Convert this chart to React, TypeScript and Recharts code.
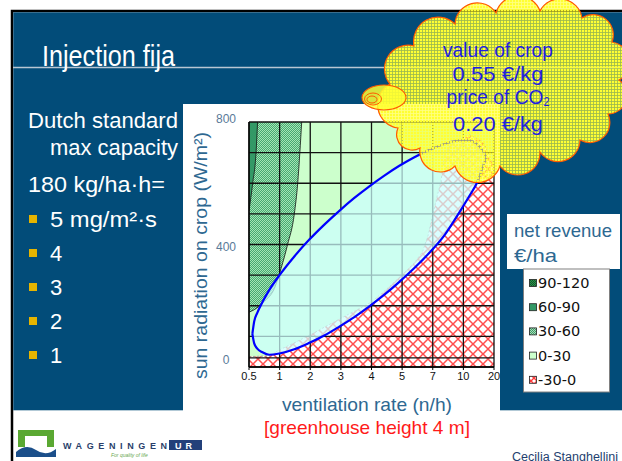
import React from 'react';
import { ComposedChart, Area, XAxis, YAxis, CartesianGrid } from 'recharts';

// ventilation rate axis: ticks are evenly spaced, index 0..8
const xTicks = [0, 1, 2, 3, 4, 5, 6, 7, 8];
const xLabels = ['0.5', '1', '2', '3', '4', '5', '7', '10', '20'];
// grid rows (W/m2); only some of them carry a label
const yTicks = [0, 30, 100, 200, 300, 400, 500, 600, 700, 800];
const yLabelled = [0, 400, 800];

// net revenue zones, x = index on the ventilation axis, y = sun radiation
const zone0to30 = [
  { x: 0, y: 800 },
  { x: 8, y: 800 },
];
const zoneLoss = [
  { x: 0, y: 34 }, { x: 0.66, y: 36 }, { x: 1.0, y: 56 }, { x: 1.5, y: 80 },
  { x: 2.0, y: 105 }, { x: 2.5, y: 132 }, { x: 3.0, y: 159 }, { x: 3.5, y: 185 },
  { x: 4.0, y: 212 }, { x: 4.5, y: 255 }, { x: 5.0, y: 301 }, { x: 5.4, y: 340 },
  { x: 5.67, y: 377 }, { x: 5.85, y: 430 }, { x: 6.0, y: 497 }, { x: 6.15, y: 560 },
  { x: 6.27, y: 606 }, { x: 6.38, y: 693 }, { x: 6.55, y: 722 }, { x: 6.76, y: 737 },
  { x: 7.2, y: 758 }, { x: 7.63, y: 737 }, { x: 7.74, y: 715 }, { x: 8.0, y: 660 },
];
const zone30to60 = [
  { x: 0, y: 179 }, { x: 0.17, y: 187 }, { x: 0.5, y: 214 }, { x: 0.83, y: 257 },
  { x: 1.05, y: 323 }, { x: 1.26, y: 400 }, { x: 1.48, y: 500 }, { x: 1.59, y: 600 },
  { x: 1.66, y: 700 }, { x: 1.72, y: 800 },
];
const zone60to90 = [
  { x: 0, y: 510 }, { x: 0.12, y: 600 }, { x: 0.23, y: 700 }, { x: 0.28, y: 800 },
];
// operating range of the injection (ellipse), [lower, upper] per x
const injectionRange = [
  { x: 0.11, range: [108, 108] }, { x: 0.17, range: [77, 149] },
  { x: 0.27, range: [60, 177] }, { x: 0.44, range: [48, 212] },
  { x: 0.66, range: [40, 251] }, { x: 0.99, range: [44, 299] },
  { x: 1.48, range: [58, 361] }, { x: 1.97, range: [79, 416] },
  { x: 2.46, range: [103, 465] }, { x: 2.95, range: [132, 510] },
  { x: 3.44, range: [163, 552] }, { x: 3.93, range: [198, 590] },
  { x: 4.42, range: [236, 625] }, { x: 4.91, range: [278, 657] },
  { x: 5.4, range: [323, 685] }, { x: 5.89, range: [373, 709] },
  { x: 6.38, range: [430, 728] }, { x: 6.87, range: [505, 740] },
  { x: 7.2, range: [559, 740] }, { x: 7.46, range: [605, 726] },
  { x: 7.66, range: [660, 702] }, { x: 7.75, range: [685, 685] },
];

const legendLabels = ['90-120', '60-90', '30-60', '0-30', '-30-0'];
const legendFills = ['url(#lgDark)', '#339966', 'url(#lgHatch)', '#ccffcc', 'url(#lgLoss)'];

const bulletItems = ['5 mg/m²·s', '4', '3', '2', '1'];

const BLUE = '#024c79';
const NARROW = '"Liberation Sans Narrow", "Liberation Sans", Arial, sans-serif';
const SANS = '"Liberation Sans", Arial, sans-serif';

const YTick = (props: any) => {
  const { x, y, payload } = props;
  if (!yLabelled.includes(payload.value)) return <g />;
  const shift = payload.value === 0 ? -7 : payload.value === 800 ? -3 : 2;
  return (
    <text x={x - 15} y={y + shift} dy={4} textAnchor="middle" fill="#5a7a98" fontSize={12} fontFamily={SANS}>
      {payload.value}
    </text>
  );
};

const YTitle = (props: any) => {
  const vb = props.viewBox || { x: 0, y: 18, width: 66, height: 245 };
  const cx = vb.x + 17;
  const cy = vb.y + vb.height / 2 + 11;
  return (
    <text
      x={cx}
      y={cy}
      transform={`rotate(-90 ${cx} ${cy})`}
      textAnchor="middle"
      dominantBaseline="central"
      fill="#2e6891"
      fontSize={19}
      fontFamily={SANS}
      textLength={247}
      lengthAdjust="spacingAndGlyphs"
    >
      sun radiation on crop (W/m²)
    </text>
  );
};

const cloudPts = [
  [398, 128], [390, 84], [414, 46], [455, 24], [496, 13], [540, 11], [582, 18], [612, 42],
  [619, 80], [608, 114], [580, 140], [540, 152], [500, 166], [455, 166], [420, 148], [398, 128],
];

function cloudPath() {
  let d = `M${cloudPts[0][0]},${cloudPts[0][1]}`;
  for (let i = 1; i < cloudPts.length; i++) {
    const [x0, y0] = cloudPts[i - 1];
    const [x1, y1] = cloudPts[i];
    const r = (Math.hypot(x1 - x0, y1 - y0) / 2) * 1.05;
    d += ` A${r.toFixed(1)},${r.toFixed(1)} 0 0 1 ${x1},${y1}`;
  }
  return d + ' Z';
}

export default function App() {
  return (
    <div style={{ position: 'absolute', left: 0, top: 0, width: 622, height: 461, overflow: 'hidden', background: '#fff' }}>
      {/* slide background */}
      <svg width={622} height={461} style={{ position: 'absolute', left: 0, top: 0 }}>
        <rect x={0} y={0} width={622} height={461} fill="#fff" />
        <rect x={12} y={11} width={620} height={460} fill="none" stroke="#000" strokeWidth={2.5} />
        <rect x={13.3} y={12.3} width={610} height={398} fill={BLUE} />
        <rect x={183} y={104} width={317} height={310} fill="#fff" />
        <line x1={13} y1={67.5} x2={622} y2={67.5} stroke="#b9c6d3" strokeWidth={1.5} />
        <text x={42} y={66} fill="#fff" fontSize={30} fontFamily={NARROW} textLength={133} lengthAdjust="spacingAndGlyphs">
          Injection fija
        </text>

        <g fill="#fff" fontSize={22} fontFamily={NARROW}>
          <text x={28} y={128} textLength={150} lengthAdjust="spacingAndGlyphs">Dutch standard</text>
          <text x={50} y={155} textLength={128} lengthAdjust="spacingAndGlyphs">max capacity</text>
          <text x={28} y={192} textLength={137} lengthAdjust="spacingAndGlyphs">180 kg/ha·h=</text>
          {bulletItems.map((t, i) => (
            <g key={t}>
              <rect x={29} y={215 + i * 34} width={8} height={8} fill="#e6b400" />
              <text x={50} y={227 + i * 34} {...(i === 0 ? { textLength: 107, lengthAdjust: 'spacingAndGlyphs' } : {})}>
                {t}
              </text>
            </g>
          ))}
        </g>

        {/* axis title under the chart */}
        <text x={367} y={411} textAnchor="middle" fill="#2e6891" fontSize={19} fontFamily={NARROW} textLength={170} lengthAdjust="spacingAndGlyphs">
          ventilation rate (n/h)
        </text>
        <text x={367} y={434} textAnchor="middle" fill="#ff1a1a" fontSize={19} fontFamily={NARROW} textLength={206} lengthAdjust="spacingAndGlyphs">
          [greenhouse height 4 m]
        </text>

        {/* footer logo */}
        <path d="M18,447 L18,430 L54,430 L54,447 L47,447 L47,436 L25,436 L25,447 Z" fill="#5aa832" />
        <path d="M16,452 Q26,443 36,450 T56,449 L56,457 L16,457 Z" fill="#1b4f8a" />
        <text x={63} y={449} fill="#2a3f6b" fontSize={9} fontWeight="bold" fontFamily={SANS} textLength={104} lengthAdjust="spacing">
          WAGENINGEN
        </text>
        <rect x={169} y={440} width={33} height={10} fill="#23407a" />
        <text x={185.5} y={448.5} textAnchor="middle" fill="#fff" fontSize={9} fontWeight="bold" fontFamily={SANS} letterSpacing={4}>
          UR
        </text>
        <text x={111} y={457} fill="#6aa84f" fontSize={5} fontStyle="italic" fontFamily={SANS}>
          For quality of life
        </text>
        <text x={512} y={461} fill="#1f3f6f" fontSize={12} fontFamily={NARROW} textLength={106} lengthAdjust="spacingAndGlyphs">
          Cecilia Stanghellini
        </text>
      </svg>

      <div style={{ position: 'absolute', left: 183, top: 104 }}>
        <ComposedChart width={317} height={293} margin={{ top: 18, right: 6, bottom: 0, left: 0 }} style={{ fontFamily: SANS }}>
          <defs>
            <pattern id="lossHatch" width="10" height="10" patternUnits="userSpaceOnUse">
              <rect width="10" height="10" fill="#fff" />
              <path d="M0,0 L10,10 M10,0 L0,10" stroke="#ff4d4d" strokeWidth="1.5" />
            </pattern>
            <pattern id="greenHatch" width="2" height="2" patternUnits="userSpaceOnUse">
              <rect width="2" height="2" fill="#a4e6b4" />
              <rect width="1" height="1" fill="#46a872" />
              <rect x="1" y="1" width="1" height="1" fill="#46a872" />
            </pattern>
          </defs>
          <XAxis
            type="number"
            dataKey="x"
            domain={[0, 8]}
            ticks={xTicks}
            interval={0}
            allowDataOverflow
            tickFormatter={(v: number) => xLabels[v]}
            tick={{ fill: '#111', fontSize: 11 }}
            tickSize={3}
            tickLine={{ stroke: '#000' }}
            axisLine={{ stroke: '#000', strokeWidth: 1.3 }}
            height={30}
          />
          <YAxis
            type="number"
            domain={[0, 800]}
            ticks={yTicks}
            interval={0}
            allowDataOverflow
            width={66}
            tick={<YTick />}
            tickLine={false}
            axisLine={{ stroke: '#000', strokeWidth: 1.3 }}
            label={YTitle}
          />
          <Area data={zone0to30} dataKey="y" type="linear" fill="#ccffcc" fillOpacity={1} stroke="none" isAnimationActive={false} zIndex={10} />
          <Area
            data={zoneLoss}
            dataKey="y"
            type="linear"
            fill="url(#lossHatch)"
            fillOpacity={1}
            stroke="#8c8c8c"
            strokeDasharray="2 2"
            strokeWidth={0.8}
            isAnimationActive={false}
            zIndex={11}
          />
          <Area
            data={zone30to60}
            dataKey="y"
            baseValue="dataMax"
            type="monotone"
            fill="url(#greenHatch)"
            fillOpacity={1}
            stroke="#111"
            strokeWidth={0.8}
            isAnimationActive={false}
            zIndex={12}
          />
          <Area
            data={zone60to90}
            dataKey="y"
            baseValue="dataMax"
            type="monotone"
            fill="#339966"
            fillOpacity={1}
            stroke="#111"
            strokeWidth={0.8}
            isAnimationActive={false}
            zIndex={13}
          />
          <CartesianGrid stroke="#111" strokeWidth={1.3} zIndex={20} />
          <Area
            data={injectionRange}
            dataKey="range"
            type="monotone"
            fill="#ccffff"
            fillOpacity={0.72}
            stroke="#0000ff"
            strokeWidth={2.2}
            isAnimationActive={false}
            zIndex={30}
          />
        </ComposedChart>
      </div>

      {/* cloud annotation and legend */}
      <svg width={622} height={461} style={{ position: 'absolute', left: 0, top: 0, pointerEvents: 'none' }}>
        <defs>
          <pattern id="cloudGrid" width="3" height="3" patternUnits="userSpaceOnUse">
            <rect width="2.2" height="2.2" fill="#ffff33" />
          </pattern>
          <pattern id="lgHatch" width="2" height="2" patternUnits="userSpaceOnUse">
            <rect width="2" height="2" fill="#a8dcb8" />
            <rect width="1" height="1" fill="#3f9c68" />
            <rect x="1" y="1" width="1" height="1" fill="#3f9c68" />
          </pattern>
          <pattern id="lgDark" width="2" height="2" patternUnits="userSpaceOnUse">
            <rect width="2" height="2" fill="#2e8b4a" />
            <rect width="1" height="1" fill="#0f5e2a" />
            <rect x="1" y="1" width="1" height="1" fill="#0f5e2a" />
          </pattern>
          <pattern id="lgLoss" width="6" height="6" patternUnits="userSpaceOnUse">
            <rect width="6" height="6" fill="#fff" />
            <path d="M0,0 L6,6 M6,0 L0,6" stroke="#ff3a3a" strokeWidth="1.4" />
          </pattern>
        </defs>

        <path d={cloudPath()} fill="#ffff33" fillOpacity={0.6} />
        <path d={cloudPath()} fill="url(#cloudGrid)" stroke="#ff5a00" strokeWidth={1.2} />
        <ellipse cx={384} cy={97.5} rx={22} ry={12.5} fill="#ffff33" fillOpacity={0.85} stroke="#ff5a00" strokeWidth={1.1} />
        <ellipse cx={373} cy={99} rx={8.5} ry={6} fill="none" stroke="#ff5a00" strokeWidth={1} />
        <ellipse cx={372} cy={99.5} rx={5} ry={3.5} fill="none" stroke="#ff5a00" strokeWidth={1} />
        <g fill="#1f1fe0" fontSize={21} fontFamily={NARROW} textAnchor="middle">
          <text x={498} y={57} textLength={110} lengthAdjust="spacingAndGlyphs">value of crop</text>
          <text x={498} y={81} textLength={91} lengthAdjust="spacingAndGlyphs">0.55 €/kg</text>
          <text x={498} y={104} textLength={103} lengthAdjust="spacingAndGlyphs">
            price of CO<tspan dy={2} fontSize={12}>2</tspan>
          </text>
          <text x={498} y={131} textLength={90} lengthAdjust="spacingAndGlyphs">0.20 €/kg</text>
        </g>

        <rect x={507} y={214} width={113} height={55} fill="#fff" />
        <text x={514} y={237} fill="#2e6891" fontSize={19} fontFamily={SANS} textLength={98} lengthAdjust="spacingAndGlyphs">
          net revenue
        </text>
        <text x={514} y={262} fill="#2e6891" fontSize={19} fontFamily={SANS} textLength={43} lengthAdjust="spacingAndGlyphs">
          €/ha
        </text>
        <rect x={523.5} y={269} width={86} height={123} fill="#fff" stroke="#808080" strokeWidth={1} />
        {legendLabels.map((l, i) => (
          <g key={l}>
            <rect x={529.5} y={279.5 + i * 24.2} width={7} height={7} fill={legendFills[i]} stroke="#222" strokeWidth={0.8} />
            <text x={538} y={288 + i * 24.2} fill="#111" fontSize={14.5} fontFamily='"DejaVu Sans", sans-serif'>
              {l}
            </text>
          </g>
        ))}
      </svg>
    </div>
  );
}
